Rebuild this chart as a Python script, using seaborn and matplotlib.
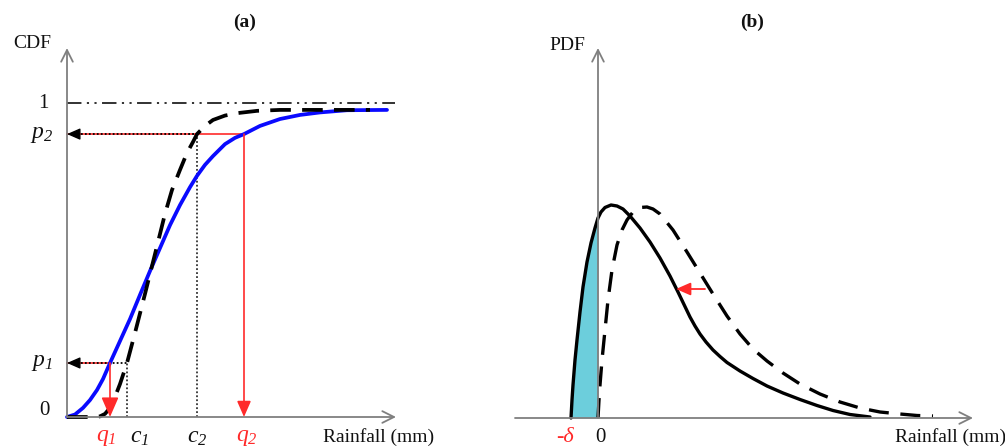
import matplotlib
matplotlib.use("Agg")
import matplotlib.pyplot as plt
import seaborn as sns

# ---------------- Panel (a): CDF data (x: rainfall, arbitrary mm units) --------------
cdf_obs_x = [0, 0.8, 1.6, 2.3, 3.0, 3.6, 4.3, 5.3, 6.3, 7.3, 8.3, 9.3, 10.3, 11.3,
             12.3, 13.0, 13.8, 14.6, 15.8, 16.8, 17.7, 19.3, 21.3, 23.3, 25.3, 28.0, 32.0]
cdf_obs_y = [0, 0.008, 0.029, 0.054, 0.086, 0.121, 0.172, 0.242, 0.312, 0.389, 0.465,
             0.538, 0.611, 0.675, 0.732, 0.768, 0.803, 0.831, 0.869, 0.889, 0.901,
             0.927, 0.949, 0.962, 0.970, 0.977, 0.978]
cdf_mod_x = [0, 2.6, 3.3, 3.8, 4.3, 4.8, 5.3, 6.0, 6.8, 7.8, 8.8, 9.8, 10.5, 11.3,
             12.0, 12.6, 13.0, 13.8, 14.6, 15.8, 17.1, 19.0, 21.3, 30.3]
cdf_mod_y = [0, 0, 0.002, 0.010, 0.029, 0.064, 0.105, 0.172, 0.268, 0.392, 0.519,
             0.647, 0.723, 0.787, 0.841, 0.876, 0.901, 0.927, 0.946, 0.960, 0.968,
             0.975, 0.978, 0.978]
p_vals = [0.172, 0.901]      # p1, p2
q_vals = [4.3, 17.7]         # q1, q2
c_vals = [6.0, 13.0]         # c1, c2
cdf_one = 1.0

# ---------------- Panel (b): PDF data ---------------------------------------------
pdf_new_x = [-2.7, -2.6, -2.5, -2.3, -2.1, -1.8, -1.5, -1.1, -0.7, -0.3, 0.0, 0.3,
             0.7, 1.3, 1.9, 2.5, 3.2, 4.2, 5.2, 6.2, 7.2, 8.0, 9.2, 9.7, 10.2, 10.8,
             11.5, 12.2, 12.9, 14.2, 15.5, 16.9, 18.5, 20.2, 21.9, 23.5, 25.2, 27.2]
pdf_new_y = [0.0, 0.18, 0.33, 0.58, 0.78, 1.06, 1.31, 1.56, 1.75, 1.90, 2.00, 2.06,
             2.105, 2.13, 2.12, 2.09, 2.02, 1.90, 1.76, 1.60, 1.42, 1.26, 1.01, 0.92,
             0.84, 0.76, 0.68, 0.615, 0.555, 0.47, 0.395, 0.32, 0.25, 0.185, 0.125,
             0.075, 0.035, 0.01]
pdf_old_x = [0.0, 0.1, 0.2, 0.4, 0.7, 1.0, 1.4, 1.9, 2.4, 2.9, 3.5, 4.2, 4.9, 5.5,
             6.2, 7.5, 8.9, 10.2, 11.5, 12.9, 14.2, 15.5, 16.9, 18.5, 20.2, 22.2,
             24.2, 26.2, 28.2, 30.2, 31.9, 33.5]
pdf_old_y = [0.0, 0.18, 0.33, 0.58, 0.88, 1.18, 1.48, 1.73, 1.88, 1.98, 2.06, 2.105,
             2.11, 2.09, 2.04, 1.88, 1.66, 1.45, 1.24, 1.02, 0.84, 0.69, 0.57, 0.45,
             0.34, 0.24, 0.16, 0.10, 0.06, 0.04, 0.025, 0.02]
delta = 2.7
shift_from, shift_to, shift_level = 10.7, 7.8, 1.29

# ---------------- Style -------------------------------------------------------------
sns.set_theme(style="white")
plt.rcParams["font.family"] = ["Liberation Serif", "DejaVu Serif"]
plt.rcParams["mathtext.fontset"] = "custom"
plt.rcParams["mathtext.rm"] = "Liberation Serif:italic"
plt.rcParams["mathtext.it"] = "Liberation Serif:italic"
plt.rcParams["mathtext.bf"] = "Liberation Serif:bold"

W, H = 1005, 448
fig = plt.figure(figsize=(W / 100, H / 100), dpi=100)
fig.patch.set_facecolor("white")

GRAY = "#7f7f7f"
RED = "#ff2a2a"
BLUE = "#0a0aff"
FILL = "#6ccedc"
TXT = "#111111"
LW = 2.4

def axis_arrow(ax, start, end):
    ax.annotate("", xy=end, xytext=start, annotation_clip=False,
                arrowprops=dict(arrowstyle="->,head_length=0.7,head_width=0.35",
                                color=GRAY, lw=1.3, shrinkA=0, shrinkB=0,
                                mutation_scale=12))

# ---------------- Panel (a) ---------------------------------------------------------
axA = fig.add_axes([67 / W, 31 / H, 338 / W, 376.8 / H])
axA.set_xlim(0, 33.8)
axA.set_ylim(0, 1.2)
axA.axis("off")

axis_arrow(axA, (0, 0), (0, 1.175))
axis_arrow(axA, (0, 0), (32.9, 0))
axA.plot([0, 32.8], [cdf_one, cdf_one], color="#222222", lw=1.3,
         linestyle=(0, (8, 3, 1.2, 3, 1.2, 3)))

# red guide lines (q -> p)
for q, p in zip(q_vals, p_vals):
    axA.plot([0, q], [p, p], color=RED, lw=1.2)
# black dotted guide lines (c -> p)
for c, p in zip(c_vals, p_vals):
    axA.plot([0.6, c], [p, p], color="black", lw=1.3, linestyle=(0, (1, 1.2)))
    axA.plot([c, c], [0, p], color="#333333", lw=1.3, linestyle=(0, (1, 1.2)))
    axA.annotate("", xy=(0, p), xytext=(1.0, p), annotation_clip=False,
                 arrowprops=dict(arrowstyle="-|>,head_length=0.8,head_width=0.35",
                                 color="black", lw=1.0, shrinkA=0, shrinkB=0,
                                 mutation_scale=10))

sns.lineplot(x=cdf_obs_x, y=cdf_obs_y, ax=axA, color=BLUE, lw=LW + 0.3, sort=False)
sns.lineplot(x=cdf_mod_x, y=cdf_mod_y, ax=axA, color="black", lw=LW + 0.3, sort=False,
             linestyle=(0, (5.5, 3)))

# red vertical arrows
for q, p, ms in zip(q_vals, p_vals, [15, 12]):
    axA.annotate("", xy=(q, 0), xytext=(q, p), annotation_clip=False,
                 arrowprops=dict(arrowstyle="-|>,head_length=0.8,head_width=0.35",
                                 color=RED, lw=1.2, shrinkA=0, shrinkB=0,
                                 mutation_scale=ms))

for ln in axA.lines:
    ln.set_clip_on(False)

# labels panel (a)
axA.text(-2.4, cdf_one, "1", fontsize=15, ha="center", va="center", color=TXT)
axA.text(-2.3, 0.02, "0", fontsize=15, ha="center", va="center", color=TXT)
axA.text(-2.5, p_vals[1], r"$p_{2}$", fontsize=17, ha="center", va="center", color=TXT)
axA.text(-2.5, p_vals[0], r"$p_{1}$", fontsize=17, ha="center", va="center", color=TXT)
axA.text(-3.5, 1.19, "CDF", fontsize=14, ha="center", va="center", color=TXT)
for q, name, off in zip(q_vals, ["1", "2"], [-0.4, 0.3]):
    axA.text(q + off, -0.065, r"$q_{%s}$" % name, fontsize=17, ha="center",
             va="center", color=RED)
for c, name, off in zip(c_vals, ["1", "2"], [1.2, 0.0]):
    axA.text(c + off, -0.065, r"$c_{%s}$" % name, fontsize=17, ha="center",
             va="center", color=TXT)
axA.text(25.6, -0.065, "Rainfall (mm)", fontsize=14, ha="left", va="center", color=TXT)

# ---------------- Panel (b) ---------------------------------------------------------
axB = fig.add_axes([513 / W, 30 / H, 465 / W, 375 / H])
axB.set_xlim(-8.5, 38)
axB.set_ylim(0, 3.75)
axB.axis("off")

axis_arrow(axB, (0, 0), (0, 3.70))
axis_arrow(axB, (-8.3, 0), (37.5, 0))

fill_x = [x for x in pdf_new_x if x <= 0]
fill_y = [y for x, y in zip(pdf_new_x, pdf_new_y) if x <= 0]
axB.fill_between(fill_x, fill_y, 0, color=FILL, lw=0)

sns.lineplot(x=pdf_new_x, y=pdf_new_y, ax=axB, color="black", lw=LW, sort=False)
sns.lineplot(x=pdf_old_x, y=pdf_old_y, ax=axB, color="black", lw=LW, sort=False,
             linestyle=(0, (6, 3.5)))
for ln in axB.lines:
    ln.set_clip_on(False)

axB.annotate("", xy=(shift_to, shift_level), xytext=(shift_from, shift_level),
             arrowprops=dict(arrowstyle="-|>,head_length=0.8,head_width=0.35",
                             color=RED, lw=1.3, shrinkA=0, shrinkB=0, mutation_scale=11))

axB.text(-3.3, -0.19, "-δ", fontsize=16, style="italic", ha="center", va="center",
         color=RED)
axB.text(0.2, -0.19, "0", fontsize=15, ha="center", va="center", color=TXT)
axB.text(-3.1, 3.73, "PDF", fontsize=14, ha="center", va="center", color=TXT)
axB.text(29.7, -0.19, "Rainfall (mm)", fontsize=14, ha="left", va="center", color=TXT)

# ---------------- Titles ------------------------------------------------------------
fig.text(245 / W, 1 - 22 / H, "(a)", fontsize=14, fontweight="bold", ha="center",
         va="center", color=TXT)
fig.text(752 / W, 1 - 22 / H, "(b)", fontsize=14, fontweight="bold", ha="center",
         va="center", color=TXT)

fig.savefig("out.png", dpi=100, facecolor="white")
